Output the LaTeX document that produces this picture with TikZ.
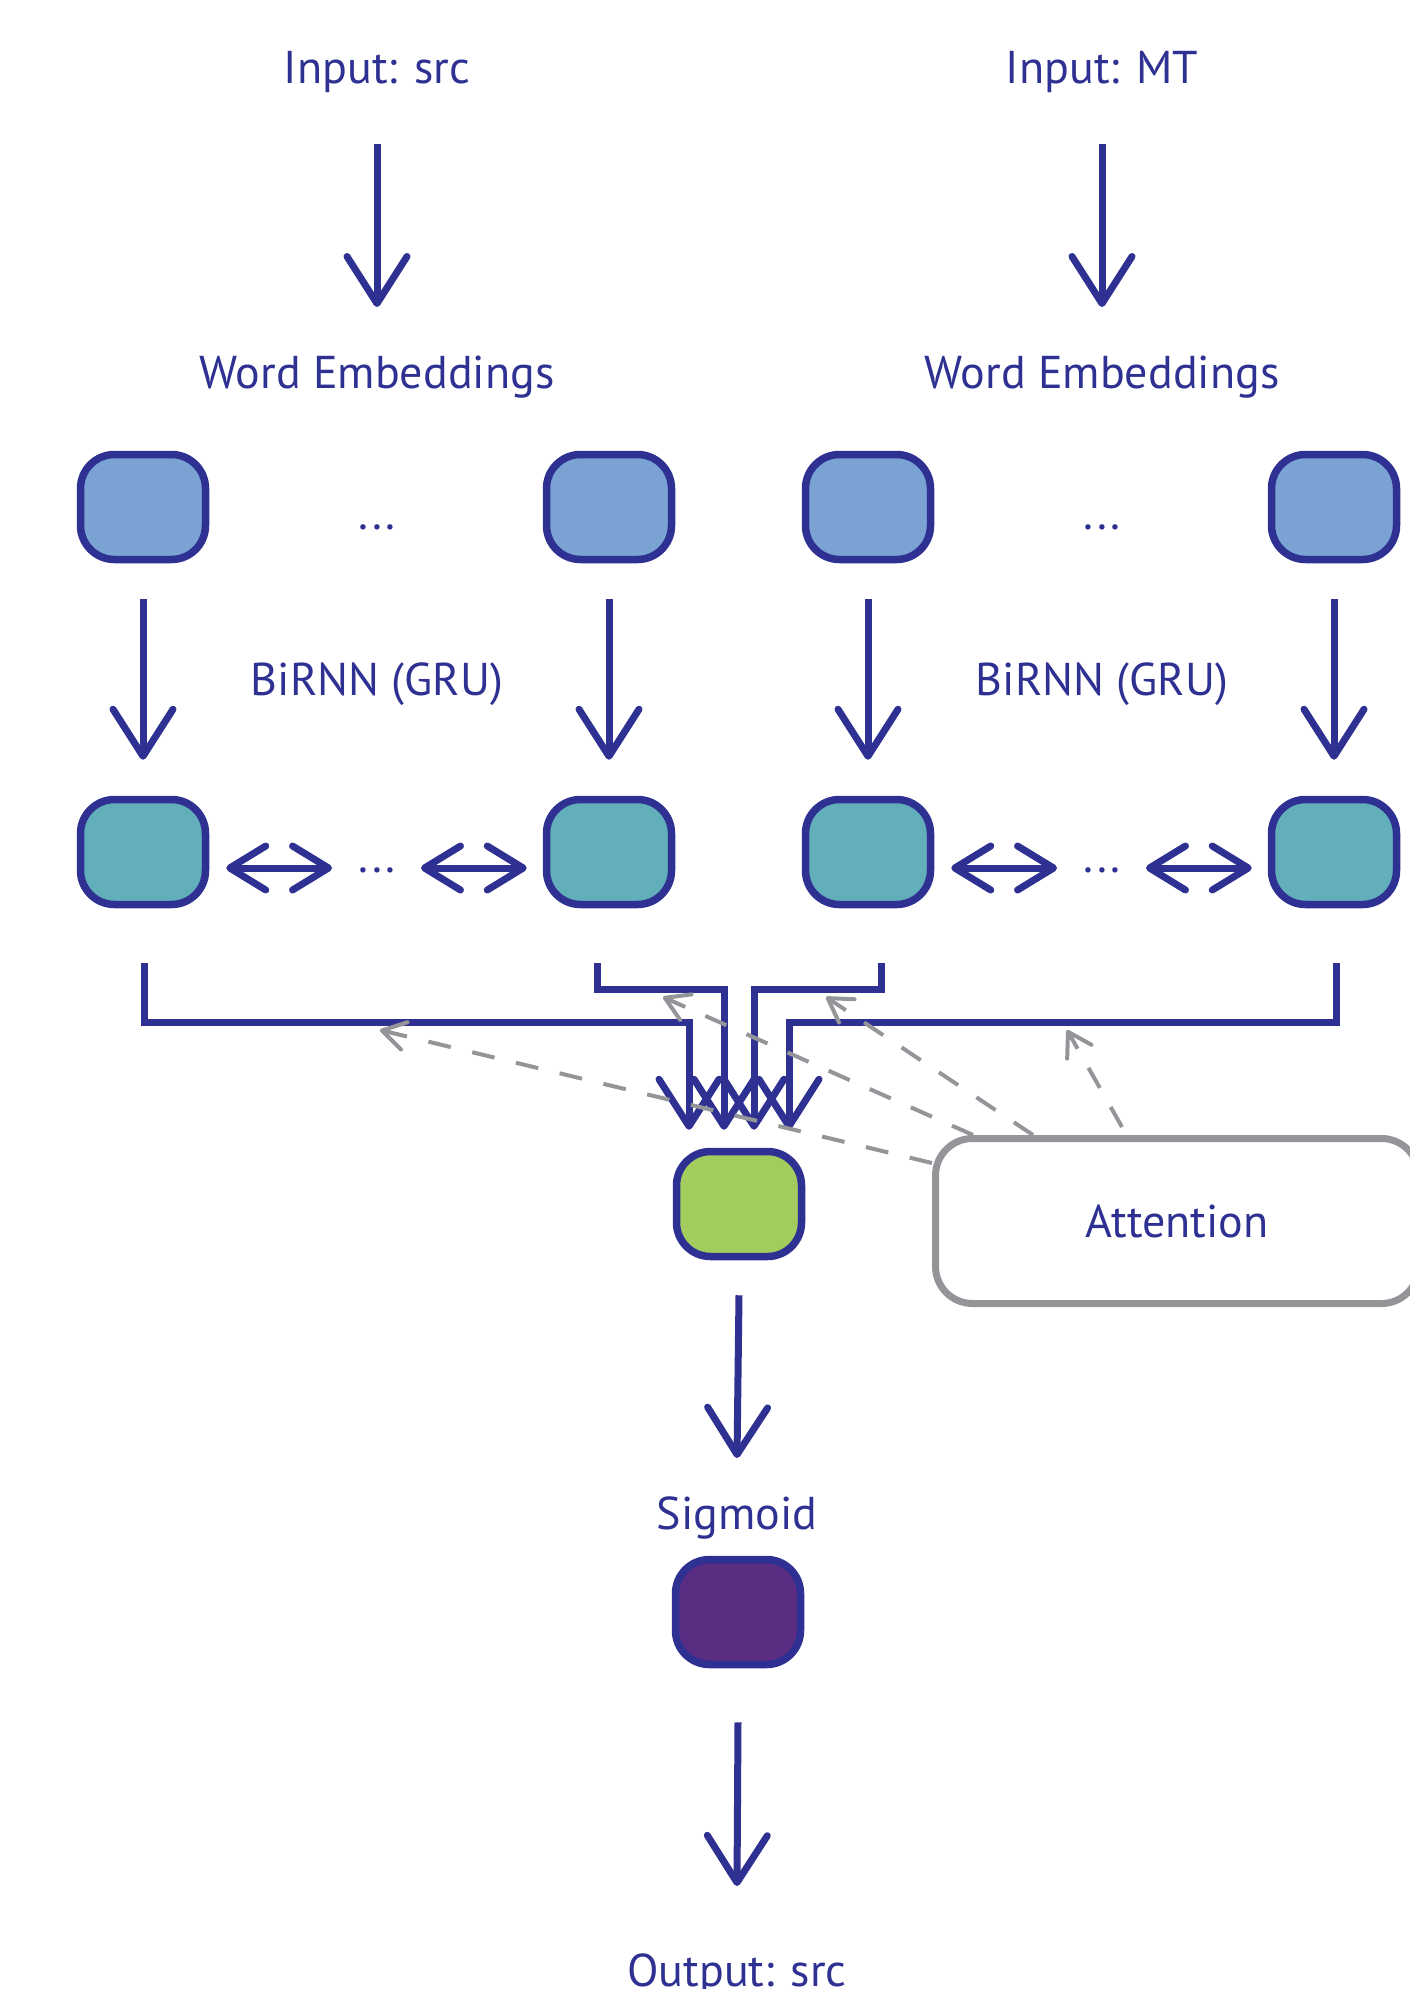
\documentclass[tikz,border=0pt]{standalone}
\usepackage{fontspec}
\setmainfont{PT Sans}
\usetikzlibrary{arrows.meta}
\definecolor{navy}{HTML}{2E3192}
\definecolor{embfill}{HTML}{7AA2D3}
\definecolor{grufill}{HTML}{62AFBB}
\definecolor{mixfill}{HTML}{A2CD5E}
\definecolor{sigfill}{HTML}{582D82}
\definecolor{attgray}{HTML}{939598}
\tikzset{
  lbl/.style={font=\fontsize{46}{52}\selectfont, text=navy, inner sep=0pt, anchor=base},
  cell/.style={draw=navy, line width=7.5pt, rounded corners=34pt, minimum width=125pt, minimum height=105pt, inner sep=0pt},
  emb/.style={cell, fill=embfill},
  gru/.style={cell, fill=grufill},
  mix/.style={cell, fill=mixfill},
  sig/.style={cell, fill=sigfill},
  attbox/.style={draw=attgray, line width=7pt, rounded corners=37pt, minimum width=483pt, minimum height=165pt, inner sep=0pt, font=\fontsize{46}{52}\selectfont, text=navy},
  flow/.style={draw=navy, line width=7pt, -{Straight Barb[length=47pt, width=60pt, round]}},
  bi/.style={draw=navy, line width=7pt, {Straight Barb[length=36pt, width=44pt, round]}-{Straight Barb[length=36pt, width=44pt, round]}},
  merge/.style={flow, line join=miter},
  attn/.style={draw=attgray, line width=4pt, dash pattern=on 23pt off 22pt, -{Straight Barb[length=23pt, width=28pt, round]}},
}
\newcommand{\mydots}{.\kern4pt.\kern4pt.}
\begin{document}
\begin{tikzpicture}[x=1pt,y=-1pt]
\useasboundingbox (0,0) rectangle (1410,1989);

% labels
\node[lbl] (in1) at (377,83) {Input: src};
\node[lbl] (in2) at (1102,83) {Input: MT};
\node[lbl] (we1) at (377,388) {Word Embeddings};
\node[lbl] (we2) at (1102,388) {Word Embeddings};
\node[lbl] (rnn1) at (377,695) {BiRNN (GRU)};
\node[lbl] (rnn2) at (1102,695) {BiRNN (GRU)};
\node[lbl] (ed1) at (377,529) {\mydots};
\node[lbl] (ed2) at (1102,529) {\mydots};
\node[lbl] (gd1) at (377,872) {\mydots};
\node[lbl] (gd2) at (1102,872) {\mydots};
\node[lbl] (sigl) at (737,1529) {Sigmoid};
\node[lbl] (out) at (737,1986) {Output: src};

% boxes
\node[emb] (e1) at (143,507) {};
\node[emb] (e2) at (609,507) {};
\node[emb] (e3) at (868,507) {};
\node[emb] (e4) at (1334,507) {};
\node[gru] (g1) at (143,852) {};
\node[gru] (g2) at (609,852) {};
\node[gru] (g3) at (868,852) {};
\node[gru] (g4) at (1334,852) {};
\node[mix] (gr) at (739,1204) {};
\node[sig] (pu) at (738,1612) {};
\node[attbox] (att) at (1177,1221) {Attention};

% input arrows
\draw[flow] ([yshift=-61pt]in1.base) -- ([yshift=81pt]we1.base);
\draw[flow] ([yshift=-61pt]in2.base) -- ([yshift=81pt]we2.base);

% embedding -> GRU
\foreach \i in {1,2,3,4}{
  \draw[flow] ([yshift=-36pt]e\i.south) -- ([yshift=36pt]g\i.north);
}

% bidirectional arrows
\draw[bi, shorten <=17pt, shorten >=26pt] ([yshift=-16pt]g1.east) -- ([yshift=-16pt]g1.east -| gd1.west);
\draw[bi, shorten <=25pt, shorten >=16pt] ([yshift=-16pt]g2.west -| gd1.east) -- ([yshift=-16pt]g2.west);
\draw[bi, shorten <=17pt, shorten >=26pt] ([yshift=-16pt]g3.east) -- ([yshift=-16pt]g3.east -| gd2.west);
\draw[bi, shorten <=25pt, shorten >=16pt] ([yshift=-16pt]g4.west -| gd2.east) -- ([yshift=-16pt]g4.west);

% merge into green box
\coordinate (t1) at ([xshift=-50pt,yshift=18pt]gr.north);
\coordinate (t2) at ([xshift=-15pt,yshift=18pt]gr.north);
\coordinate (t3) at ([xshift=15pt,yshift=18pt]gr.north);
\coordinate (t4) at ([xshift=50pt,yshift=18pt]gr.north);
\draw[merge] ([xshift=1pt,yshift=-55pt]g1.south) -- ++(0,59) -| (t1);
\draw[merge] ([xshift=-12pt,yshift=-55pt]g2.south) -- ++(0,26) -| (t2);
\draw[merge] ([xshift=13pt,yshift=-55pt]g3.south) -- ++(0,26) -| (t3);
\draw[merge] ([xshift=2pt,yshift=-55pt]g4.south) -- ++(0,59) -| (t4);

% attention arrows
\coordinate (d1) at (380,1030);
\coordinate (d2) at (663,997);
\coordinate (d3) at (826,997);
\coordinate (d4) at (1067,1030);
\draw[attn] ([yshift=58pt]att.west) -- (d1);
\draw[attn] ([xshift=41pt]att.north west) -- (d2);
\draw[attn] ([xshift=101pt]att.north west) -- (d3);
\draw[attn] ([xshift=190pt,yshift=8pt]att.north west) -- (d4);

% output arrows
\draw[flow] ([yshift=-35pt]gr.south) -- ([yshift=71pt]sigl.base);
\draw[flow] ([yshift=-54pt]pu.south) -- ([yshift=100pt]out.base);
\end{tikzpicture}
\end{document}
